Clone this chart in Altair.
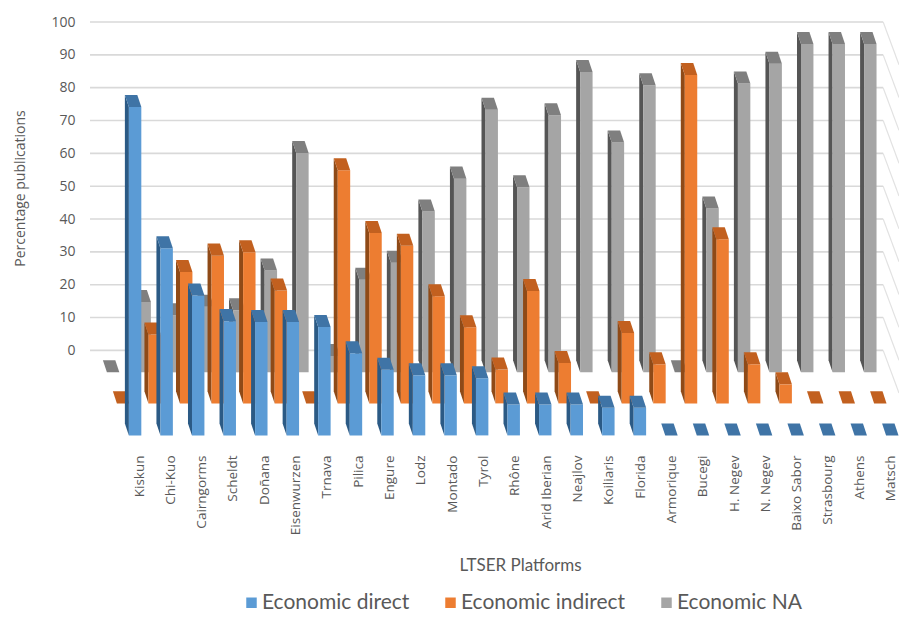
import json
import altair as alt
import pandas as pd

platforms = ["Kiskun", "Chi-Kuo", "Cairngorms", "Scheldt", "Doñana", "Eisenwurzen", "Trnava",
             "Pilica", "Engure", "Lodz", "Montado", "Tyrol", "Rhône", "Arid Iberian", "Neajlov",
             "Koiliaris", "Florida", "Armorique", "Bucegi", "H. Negev", "N. Negev", "Baixo Sabor",
             "Strasbourg", "Athens", "Matsch"]
direct = [100, 57, 42.6, 34.8, 34.5, 34.5, 33, 25, 20, 18.3, 18.3, 17.4, 9.4, 9.4, 9.4, 8.4, 8.4,
          0, 0, 0, 0, 0, 0, 0, 0]
indirect = [0, 21, 40, 45, 46, 34.4, 0, 71, 51.9, 48, 32.6, 23.2, 10.3, 34.2, 12.3, 0, 21.4,
            11.9, 100, 50, 11.9, 5.8, 0, 0, 0]
na = [0, 21.4, 17.4, 20, 18.9, 31, 66.8, 5, 28.2, 33.4, 49, 59, 80, 56.4, 78.3, 91.5, 70,
      87.4, 0, 49.9, 88, 94, 100, 100, 100]
grid_levels = list(range(0, 101, 10))

series_names = ["Economic direct", "Economic indirect", "Economic NA"]
front_colors = ["#5B9BD5", "#ED7D31", "#A5A5A5"]
side_colors = ["#2B5A85", "#8F4A17", "#555555"]
cap_colors = ["#3F74A6", "#C2601F", "#7F7F7F"]
# where each row of bars stands on the chart's floor (category units, percentage units)
row_shift_x = [0.0, -0.38, -0.697]
row_base = [-25.9, -16.15, -6.7]
half_width = 0.197
bar_depth_x = 0.127
bar_depth_y = 3.66

X_DOMAIN = [-1.493, 24.212]
Y_DOMAIN = [-27.3, 100]
x_scale = alt.Scale(domain=X_DOMAIN, nice=False, zero=False)
y_scale = alt.Scale(domain=Y_DOMAIN, nice=False, zero=False)
WALL_LEFT = -1.43
WALL_RIGHT = 23.71
WALL_EDGE = 24.212
WALL_DROP = 13
LABEL_START = 0.124
LABEL_STEP = 0.9926


def pieces(values, k):
    front, side, cap = [], [], []
    for i, v in enumerate(values):
        xl = i + row_shift_x[k] - half_width
        xr = i + row_shift_x[k] + half_width
        base = row_base[k]
        top = base + v
        name = platforms[i]
        front.append(dict(p=name, series=series_names[k], x=xl, x2=xr, y=base, y2=top))
        if v > 0:
            side += [dict(p=name, x=xl - bar_depth_x, y=base + bar_depth_y, y2=top + bar_depth_y),
                     dict(p=name, x=xl, y=base, y2=top)]
        back = top + bar_depth_y
        cap += [dict(p=name, x=xl - bar_depth_x, y=back, y2=back),
                dict(p=name, x=xl, y=back, y2=top),
                dict(p=name, x=xr - bar_depth_x, y=back, y2=top),
                dict(p=name, x=xr, y=top, y2=top)]
    return pd.DataFrame(front), pd.DataFrame(side), pd.DataFrame(cap)


x_axis = alt.Axis(
    values=[LABEL_START + i * LABEL_STEP for i in range(len(platforms))],
    labelExpr=json.dumps(platforms, ensure_ascii=False)
    + f"[round((datum.value-{LABEL_START})/{LABEL_STEP})]",
    labelAngle=270, labelAlign="right", labelBaseline="middle",
    labelPadding=15, labelFontSize=13.5, labelColor="#595959",
    labelFont="Open Sans", labelOverlap=False, labelBound=False, labelFlush=False,
    domain=False, ticks=False, grid=False,
    title="LTSER Platforms", titleFontSize=17, titleFont="Lato", titleFontWeight="normal",
    titleColor="#595959", titleX=432, titleY=125, titleBaseline="middle",
)
y_axis = alt.Axis(
    values=grid_levels, labelFontSize=14, labelColor="#595959", labelFont="Open Sans",
    labelPadding=13, domain=False, ticks=False, grid=False,
    title="Percentage publications", titleFontSize=14, titleFont="Open Sans",
    titleFontWeight="normal", titleColor="#595959", titleX=-68, titleY=166,
    titleBaseline="middle",
)
X = alt.X("x:Q", scale=x_scale, axis=x_axis)
Y = alt.Y("y:Q", scale=y_scale, axis=y_axis)

wall = pd.DataFrame(
    [dict(level=v, x=WALL_LEFT, y=v) for v in grid_levels] + [dict(level=v, x=WALL_RIGHT, y=v) for v in grid_levels]
)
side_wall = pd.DataFrame(
    [dict(level=v, x=WALL_RIGHT, y=v) for v in grid_levels] + [dict(level=v, x=WALL_EDGE, y=v - WALL_DROP) for v in grid_levels]
)
layers = [
    alt.Chart(wall).mark_line(color="#D9D9D9", strokeWidth=1.6).encode(x=X, y=Y, detail="level:N"),
    alt.Chart(side_wall).mark_line(color="#E2E2E2", strokeWidth=1.2).encode(x=X, y=Y, detail="level:N"),
]

for k, values in reversed(list(enumerate([direct, indirect, na]))):
    front, side, cap = pieces(values, k)
    layers.append(alt.Chart(side).mark_area(color=side_colors[k], interpolate="linear").encode(
        x=X, y=Y, y2="y2:Q", detail="p:N"))
    layers.append(alt.Chart(front).mark_bar(opacity=1).encode(
        x=X, x2="x2:Q", y=Y, y2="y2:Q",
        color=alt.Color("series:N", scale=alt.Scale(domain=series_names, range=front_colors),
                        legend=alt.Legend(
                            orient="none", legendX=153, legendY=570, direction="horizontal",
                            columns=3, title=None, symbolType="square", symbolSize=110,
                            symbolStrokeWidth=0, labelFontSize=21, labelFont="Lato", labelLimit=300,
                            labelColor="#595959", columnPadding=30, labelOffset=0))))
    layers.append(alt.Chart(cap).mark_area(color=cap_colors[k], interpolate="linear").encode(
        x=X, y=Y, y2="y2:Q", detail="p:N"))

chart = alt.layer(*layers).properties(
    width=811, height=418,
    padding={"left": 80, "top": 14, "right": 0, "bottom": 173},
    autosize=alt.AutoSizeParams(type="none"),
    background="white",
).configure_view(stroke=None)

chart.save("out.html", embed_options={"renderer": "svg", "actions": False})
